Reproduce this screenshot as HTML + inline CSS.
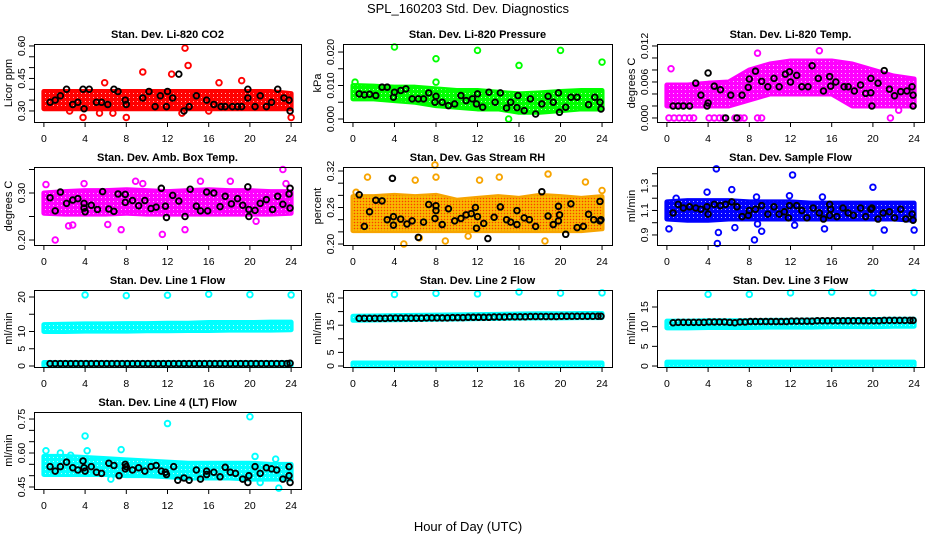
<!DOCTYPE html>
<html><head><meta charset="utf-8">
<style>
html,body{margin:0;padding:0;background:#fff;}
svg{display:block;font-family:"Liberation Sans",Arial,sans-serif;}
</style></head>
<body>
<svg id="chart" width="936" height="540" viewBox="0 0 936 540">
<defs>
<pattern id="speck" width="4" height="4" patternUnits="userSpaceOnUse"><rect x="1" y="1" width="1" height="1" fill="#ffffff" opacity="0.7"/></pattern>
<pattern id="speckrh" width="3" height="3" patternUnits="userSpaceOnUse"><rect x="0" y="0" width="1" height="1" fill="#ff2000" opacity="0.8"/><rect x="1.5" y="1.5" width="1" height="1" fill="#ffff00" opacity="0.9"/></pattern>
</defs>
<text x="468" y="13" text-anchor="middle" font-size="13">SPL_160203  Std. Dev. Diagnostics</text>
<text x="468" y="531" text-anchor="middle" font-size="13">Hour of Day (UTC)</text>
</svg>
<script>
// shared
const xTicks = [0,4,8,12,16,20,24];
const bandHours = [0,2,4,6,8,10,12,14,16,18,20,22,24];
const lineHours = [0.6,1.1,1.6,2.1,2.6,3.1,3.6,4.1,4.6,5.1,5.6,6.1,6.6,7.1,7.6,8.1,8.6,9.1,9.6,10.1,10.6,11.1,11.6,12.1,12.6,13.1,13.6,14.1,14.6,15.1,15.6,16.1,16.6,17.1,17.6,18.1,18.6,19.1,19.6,20.1,20.6,21.1,21.6,22.1,22.6,23.1,23.6,23.9];

// panel 1 CO2
const co2Low = [0.31,0.31,0.31,0.31,0.31,0.31,0.31,0.31,0.31,0.31,0.31,0.31,0.31];
const co2High = [0.39,0.39,0.39,0.39,0.39,0.39,0.39,0.39,0.39,0.39,0.39,0.39,0.38];
const co2Out = [[3.8,0.27],[5.4,0.29],[5.9,0.43],[6.7,0.29],[8,0.27],[9.6,0.48],[12.4,0.47],[13.7,0.59],[14,0.51],[13.4,0.29],[16,0.30],[17,0.43],[19.2,0.44],[24,0.27],[2.5,0.30]];
const co2Black = [[0.6,0.34],[1.1,0.35],[1.6,0.37],[2.2,0.40],[2.8,0.33],[3.3,0.34],[3.8,0.40],[3.9,0.31],[4.4,0.40],[5.1,0.34],[5.6,0.34],[6.2,0.33],[6.8,0.40],[7.2,0.39],[7.9,0.35],[8,0.33],[9.6,0.36],[10.2,0.39],[10.8,0.32],[11.3,0.37],[11.9,0.32],[12,0.39],[12.5,0.36],[13.1,0.47],[13.6,0.30],[14.1,0.32],[14.8,0.37],[15.8,0.35],[16.5,0.33],[17.2,0.32],[17.6,0.32],[18.3,0.32],[18.8,0.32],[19.2,0.32],[19.8,0.40],[19.8,0.36],[20.5,0.32],[21,0.37],[21.6,0.32],[22.1,0.34],[22.7,0.40],[23.3,0.36],[23.8,0.35],[23.9,0.30]];
const co2Ticks = [0.30,0.35,0.40,0.45,0.50,0.55,0.60];
const co2Labels = ["0.30","0.45","0.60"];

// panel 2 pressure
const presLow = [0.006,0.006,0.0055,0.005,0.004,0.0035,0.003,0.003,0.002,0.002,0.0025,0.003,0.003];
const presHigh = [0.0100,0.0098,0.0095,0.0095,0.0090,0.0085,0.0085,0.0080,0.0075,0.0078,0.0082,0.0085,0.0085];
const presOut = [[4,0.0215],[8,0.018],[8,0.011],[12,0.0205],[16,0.016],[15,0],[20,0.0205],[24,0.017],[0.2,0.011]];
const presBlack = [[0.6,0.0075],[1.1,0.0072],[1.6,0.0074],[2.2,0.007],[2.8,0.0095],[3.3,0.0095],[3.9,0.0065],[4,0.008],[4.6,0.0085],[5.1,0.009],[5.7,0.006],[6.3,0.006],[6.8,0.006],[7.3,0.0078],[7.9,0.005],[8,0.0068],[8.6,0.005],[9.2,0.004],[9.8,0.0045],[10.4,0.007],[10.9,0.0055],[11.5,0.006],[11.9,0.0045],[12,0.0075],[12.5,0.0035],[13.1,0.008],[13.7,0.005],[14.2,0.0078],[14.8,0.0033],[15.2,0.005],[15.8,0.0034],[15.9,0.007],[16.5,0.0025],[17.1,0.006],[17.6,0.0015],[18.2,0.0045],[18.8,0.0068],[19.3,0.005],[19.8,0.0078],[19.9,0.002],[20.5,0.0035],[21,0.0065],[21.6,0.0065],[22.7,0.0043],[23.3,0.0065],[23.8,0.005],[23.9,0.003]];
const presTicks = [0,0.005,0.010,0.015,0.020];
const presLabels = ["0.000","0.010","0.020"];

// panel 3 Li-820 temp
const tempLow = [0.002,0.002,0.002,0.002,0.003,0.004,0.004,0.004,0.004,0.002,0.002,0.002,0.002];
const tempHigh = [0.0055,0.0055,0.0058,0.006,0.008,0.009,0.0095,0.0095,0.0095,0.009,0.008,0.007,0.0065];
const tempOut = [[0.4,0.0082],[8.8,0.0108],[14.8,0.0112],[22.5,0.0013],[21.7,0],[0.2,0],[0.7,0],[1.2,0],[1.7,0],[2.2,0],[2.6,0],[4.1,0],[4.6,0],[5.1,0],[5.5,0],[6.6,0],[7.1,0],[7.5,0],[8.8,0],[9.2,0]];
const tempBlack = [[0.6,0.002],[1.1,0.002],[1.6,0.002],[2.2,0.002],[2.8,0.0058],[3.3,0.0038],[3.9,0.002],[4,0.0025],[4,0.0075],[4.6,0.0053],[5.2,0.0047],[5.7,0],[6.2,0.0038],[6.8,0],[7.3,0.0038],[7.9,0.0051],[8,0.0065],[8.6,0.0078],[9.2,0.0061],[9.8,0.0052],[10.4,0.0066],[10.9,0.0052],[11.5,0.0073],[11.9,0.0077],[12,0.006],[12.6,0.0071],[13.1,0.0052],[13.7,0.0052],[14.1,0.0087],[14.7,0.0066],[15.2,0.0045],[15.8,0.0069],[15.9,0.0053],[16.4,0.006],[17.2,0.0052],[17.6,0.0052],[18.2,0.0045],[18.8,0.0055],[19.3,0.0041],[19.8,0.0066],[19.8,0.0042],[19.9,0.002],[20.5,0.0058],[21.1,0.0079],[21.6,0.0048],[22.1,0.0037],[22.7,0.0044],[23.3,0.0045],[23.8,0.0052],[23.9,0.0038],[23.9,0.002]];
const tempTicks = [0,0.002,0.004,0.006,0.008,0.010,0.012];
const tempLabels = ["0.000","0.006","0.012"];

// panel 4 ambient box temp
const ambLow = [0.257,0.255,0.255,0.255,0.257,0.255,0.255,0.255,0.255,0.255,0.255,0.255,0.257];
const ambHigh = [0.300,0.303,0.305,0.305,0.307,0.305,0.303,0.305,0.307,0.305,0.305,0.303,0.303];
const ambOut = [[0.2,0.318],[1.1,0.2],[2.4,0.23],[3.9,0.32],[7.5,0.222],[8.9,0.325],[11.5,0.212],[13.7,0.222],[15.2,0.325],[18.1,0.325],[20.6,0.24],[23.2,0.35],[23.5,0.32],[2.8,0.232],[6.2,0.233],[9.6,0.32]];
const ambBlack = [[0.6,0.29],[1.1,0.262],[1.6,0.302],[2.2,0.278],[2.8,0.285],[3.3,0.288],[3.9,0.268],[3.9,0.278],[4.0,0.26],[4.6,0.274],[5.2,0.265],[5.7,0.303],[6.3,0.266],[6.8,0.261],[7.2,0.298],[7.9,0.28],[7.9,0.297],[8.6,0.284],[9.2,0.273],[9.8,0.284],[10.4,0.267],[10.9,0.27],[11.4,0.31],[11.8,0.272],[11.9,0.248],[12.5,0.295],[13.1,0.283],[13.7,0.25],[14.2,0.308],[14.8,0.272],[15.2,0.262],[15.8,0.302],[15.9,0.262],[16.5,0.3],[17.1,0.271],[17.6,0.293],[18.2,0.277],[18.8,0.288],[19.3,0.274],[19.8,0.313],[19.9,0.265],[19.9,0.25],[20.5,0.263],[21,0.278],[21.6,0.286],[22.2,0.265],[22.7,0.293],[23.2,0.276],[23.8,0.298],[23.9,0.268],[23.9,0.31]];
const ambTicks = [0.20,0.25,0.30,0.35];
const ambLabels = ["0.20","0.30"];

// panel 5 RH
const rhLow = [0.222,0.222,0.222,0.222,0.222,0.222,0.222,0.222,0.222,0.222,0.222,0.222,0.225];
const rhHigh = [0.278,0.278,0.28,0.278,0.28,0.272,0.275,0.278,0.275,0.28,0.278,0.275,0.278];
const rhOut = [[0.3,0.285],[1.4,0.31],[4.9,0.2],[6,0.305],[7.9,0.33],[8,0.31],[12.2,0.305],[14.1,0.31],[18.5,0.205],[18.8,0.315],[22.4,0.302],[24,0.288],[11.1,0.213],[6.4,0.21],[8.9,0.205]];
const rhBlack = [[0.6,0.281],[1.1,0.229],[1.6,0.253],[2.2,0.272],[2.8,0.271],[3.3,0.24],[3.8,0.308],[3.9,0.245],[3.9,0.231],[4.6,0.241],[5.2,0.233],[5.7,0.238],[6.3,0.211],[6.8,0.236],[7.3,0.265],[7.9,0.242],[8.0,0.255],[8,0.263],[8.6,0.232],[9.2,0.258],[9.8,0.238],[10.4,0.242],[10.9,0.248],[11.4,0.25],[11.8,0.26],[11.9,0.226],[12,0.245],[12.6,0.234],[13.0,0.209],[13.6,0.244],[14.2,0.261],[14.8,0.24],[15.2,0.236],[15.8,0.232],[15.8,0.255],[16.5,0.243],[17,0.24],[17.6,0.229],[18.2,0.286],[18.8,0.246],[19.3,0.232],[19.8,0.238],[19.8,0.262],[19.9,0.248],[20.5,0.216],[21,0.266],[21.6,0.227],[22.2,0.229],[22.7,0.249],[23.2,0.24],[23.8,0.27],[23.8,0.238],[23.9,0.24]];
const rhTicks = [0.20,0.22,0.24,0.26,0.28,0.30,0.32];
const rhLabels = ["0.20","0.26","0.32"];

// panel 6 sample flow
const flowLow = [1.03,1.02,1.02,1.03,1.03,1.03,1.03,1.03,1.03,1.03,1.03,1.03,1.02];
const flowHigh = [1.17,1.18,1.18,1.18,1.17,1.17,1.17,1.16,1.16,1.16,1.16,1.16,1.16];
const flowOut = [[0.2,0.95],[0.9,1.2],[3.9,1.25],[4.8,1.44],[4.9,0.83],[5,0.92],[6.3,1.27],[6.6,0.96],[8.5,0.86],[8.7,1.21],[9.2,0.93],[12.2,1.39],[11.9,1.22],[15.1,1.21],[15.3,0.95],[20,1.29],[21.1,0.94],[24,0.94],[12.4,0.98],[8.8,0.99]];
const flowBlack = [[0.6,1.08],[1.1,1.15],[1.6,1.12],[2.2,1.13],[2.8,1.12],[3.3,1.11],[3.9,1.13],[4,1.07],[4.6,1.15],[5.2,1.14],[5.7,1.15],[6.3,1.17],[6.8,1.13],[7.3,1.05],[7.9,1.06],[8,1.1],[8.6,1.11],[9.2,1.14],[9.8,1.07],[10.4,1.13],[10.9,1.07],[11.4,1.09],[11.8,1.04],[11.9,1.14],[12.6,1.14],[13.1,1.1],[13.6,1.04],[14.2,1.12],[14.8,1.08],[15.2,1.03],[15.8,1.06],[15.8,1.15],[15.9,1.11],[16.5,1.05],[17.1,1.12],[17.6,1.08],[18.1,1.06],[18.8,1.12],[19.3,1.05],[19.8,1.11],[19.9,1.12],[20.5,1.03],[21.0,1.08],[21.6,1.09],[22.1,1.04],[22.7,1.11],[23.2,1.03],[23.8,1.07],[23.9,1.02]];
const flowTicks = [0.9,1.0,1.1,1.2,1.3,1.4];
const flowLabels = ["0.9","1.1","1.3"];

// panel 7 line 1
const l1Low = [10.0,10.0,10.1,10.1,10.1,10.2,10.2,10.3,10.3,10.4,10.4,10.4,10.5];
const l1High = [12.0,12.1,12.2,12.2,12.3,12.3,12.4,12.4,12.6,12.6,12.6,12.7,12.7];
const l1ZeroLow = [0.1,0.1,0.1,0.1,0.1,0.1,0.1,0.1,0.1,0.1,0.1,0.1,0.1];
const l1ZeroHigh = [1.0,1.0,1.0,1.0,1.0,1.0,1.0,1.0,1.0,1.0,1.0,1.0,1.0];
const l1Out = [[4,20.6],[8,20.4],[12,20.5],[16,20.8],[20,20.7],[24,20.6]];
const l1Black = [0.7,0.7,0.7,0.7,0.7,0.7,0.7,0.7,0.7,0.7,0.7,0.7,0.7,0.7,0.7,0.7,0.7,0.7,0.7,0.7,0.7,0.7,0.7,0.7,0.7,0.7,0.7,0.7,0.7,0.7,0.7,0.7,0.7,0.7,0.7,0.7,0.7,0.7,0.7,0.7,0.7,0.7,0.7,0.7,0.7,0.7,0.7,0.8];
const l1Ticks = [0,5,10,15,20];
const l1Labels = ["0","5","10","20"];

// panel 8 line 2
const l2Low = [16.8,16.9,17.0,17.1,17.2,17.3,17.4,17.5,17.6,17.7,17.7,17.8,17.8];
const l2High = [18.3,18.4,18.5,18.6,18.7,18.8,18.9,19.0,19.1,19.2,19.2,19.3,19.3];
const l2ZeroLow = [0.1,0.1,0.1,0.1,0.1,0.1,0.1,0.1,0.1,0.1,0.1,0.1,0.1];
const l2ZeroHigh = [1.1,1.1,1.1,1.1,1.1,1.1,1.1,1.1,1.1,1.1,1.1,1.1,1.1];
const l2Out = [[4,26.3],[8,26.7],[12,26.5],[16,27.2],[20,26.8],[24,26.9]];
const l2Black = [17.5,17.5,17.5,17.5,17.5,17.5,17.6,17.6,17.6,17.6,17.6,17.6,17.6,17.7,17.7,17.7,17.7,17.7,17.8,17.8,17.8,17.9,17.9,17.9,17.9,17.9,18.0,18.0,18.0,18.1,18.1,18.1,18.1,18.2,18.2,18.2,18.2,18.2,18.2,18.3,18.3,18.3,18.3,18.3,18.3,18.3,18.3,18.3];
const l2Ticks = [0,5,10,15,20,25];
const l2Labels = ["0","5","15","25"];

// panel 9 line 3
const l3Low = [9.7,9.7,9.8,9.8,9.8,9.9,9.9,9.9,10.0,10.0,10.0,10.1,10.1];
const l3High = [11.4,11.4,11.5,11.5,11.5,11.6,11.6,11.7,11.7,11.8,11.8,11.9,11.9];
const l3ZeroLow = [0.1,0.1,0.1,0.1,0.1,0.1,0.1,0.1,0.1,0.1,0.1,0.1,0.1];
const l3ZeroHigh = [1.0,1.0,1.0,1.0,1.0,1.0,1.0,1.0,1.0,1.0,1.0,1.0,1.0];
const l3Out = [[4,18.2],[8,18.2],[12,18.6],[16,18.8],[20,18.6],[24,18.7]];
const l3Black = [11.0,11.1,11.1,11.1,11.1,11.1,11.1,11.2,11.2,11.2,11.2,11.1,11.0,11.2,11.2,11.3,11.3,11.3,11.3,11.3,11.3,11.3,11.3,11.4,11.4,11.4,11.4,11.4,11.5,11.5,11.5,11.5,11.5,11.5,11.5,11.5,11.5,11.5,11.5,11.5,11.5,11.6,11.6,11.6,11.6,11.6,11.6,11.6];
const l3Ticks = [0,5,10,15];
const l3Labels = ["0","5","10","15"];

// panel 10 line 4
const l4Low = [0.505,0.505,0.505,0.505,0.5,0.5,0.495,0.49,0.49,0.49,0.485,0.485,0.485];
const l4High = [0.585,0.585,0.58,0.575,0.57,0.565,0.56,0.555,0.555,0.555,0.555,0.55,0.55];
const l4Out = [[0.2,0.61],[1.6,0.6],[4,0.675],[4.2,0.61],[7.5,0.615],[12,0.73],[20,0.76],[20.5,0.585],[22.5,0.573],[22.8,0.445],[6.5,0.485],[21,0.47],[2.6,0.59]];
const l4BlackPts = [[0.6,0.54],[1.1,0.52],[1.6,0.54],[2.2,0.56],[2.8,0.535],[3.3,0.525],[3.8,0.565],[3.9,0.535],[4,0.52],[4.6,0.54],[5.1,0.515],[5.6,0.51],[6.3,0.555],[6.8,0.545],[7.3,0.5],[7.9,0.55],[7.9,0.53],[8,0.54],[8.6,0.525],[9.2,0.535],[9.8,0.52],[10.4,0.54],[10.9,0.545],[11.4,0.52],[11.8,0.515],[11.9,0.505],[12.6,0.54],[13,0.48],[13.6,0.49],[14.1,0.48],[14.8,0.525],[15.2,0.485],[15.8,0.505],[15.8,0.52],[16.5,0.515],[17.1,0.495],[17.6,0.537],[18.1,0.515],[18.6,0.51],[19.3,0.485],[19.8,0.47],[19.9,0.5],[20.5,0.54],[21,0.51],[21.6,0.535],[22.1,0.53],[22.6,0.525],[23.2,0.485],[23.8,0.5],[23.8,0.54],[23.9,0.47]];
const l4Ticks = [0.45,0.50,0.55,0.60,0.65,0.70,0.75];
const l4Labels = ["0.45","0.60","0.75"];

const NS = "http://www.w3.org/2000/svg";
const svg = document.getElementById('chart');
function mk(tag, attrs, parent){ const e=document.createElementNS(NS,tag); for(const k in attrs) e.setAttribute(k,attrs[k]); (parent||svg).appendChild(e); return e; }

const cols = [[34,301],[343,612],[657,924]];
const rows = [[44,122],[167,245],[290,367],[412,489]];

function panel(o){
  const [x0,x1]=cols[o.c], [y0,y1]=rows[o.r];
  const g = mk('g',{});
  
  
  const xs = h => x0 + (h+0.96)/25.92*(x1-x0);
  const ys = v => y1 - (v-o.ymin)/(o.ymax-o.ymin)*(y1-y0);
  const t = mk('text',{x:(x0+x1)/2,y:y0-6,'text-anchor':'middle','font-size':'11','font-weight':'bold'},g);
  t.textContent = o.title;
  
  
  const clip = mk('g',{},g);
  function band(lo,hi,col){
    let pts = bandHours.map((h,i)=>xs(h)+','+ys(hi[i]));
    pts = pts.concat(bandHours.slice().reverse().map((h,j)=>{const i=bandHours.length-1-j; return xs(h)+','+ys(lo[i]);}));
    const p = mk('polygon',{points:pts.join(' '),fill:col,stroke:col,'stroke-width':'5','stroke-linejoin':'round'},clip);
    
    
    const q = mk('polygon',{points:pts.join(' '),fill:o.rh?'url(#speckrh)':'url(#speck)'},clip);
    
    
  }
  band(o.low,o.high,o.col);
  if(o.zlow) band(o.zlow,o.zhigh,o.col);
  o.out.forEach(d=>{
    const c = mk('circle',{cx:xs(d[0]),cy:ys(d[1]),r:2.8,fill:'none',stroke:o.col,'stroke-width':1.9},clip);
    
    
  });
  o.black.forEach(d=>{
    const c = mk('circle',{cx:xs(d[0]),cy:ys(d[1]),r:2.8,fill:'none',stroke:'#000','stroke-width':1.9},clip);
    
    
  });
  const b = mk('rect',{x:x0+0.5,y:y0+0.5,width:x1-x0,height:y1-y0,fill:'none',stroke:'#000','stroke-width':1},g);
  
  
  xTicks.forEach(h=>{
    mk('line',{x1:xs(h),x2:xs(h),y1:y1,y2:y1+5,stroke:'#000'},g);
    const l = mk('text',{x:xs(h),y:y1+20,'text-anchor':'middle','font-size':'10.5'},g);
    l.textContent = h;
    
    
  });
  o.ticks.forEach(v=>{ mk('line',{x1:x0-5,x2:x0,y1:ys(v),y2:ys(v),stroke:'#000'},g); });
  o.labels.forEach(s=>{
    const v=parseFloat(s), yy=ys(v), xx=x0-9;
    const l = mk('text',{x:xx,y:yy,'text-anchor':'middle','font-size':'10.5',transform:`rotate(-90 ${xx} ${yy})`},g);
    l.textContent = s;
    
    
  });
  const yl = mk('text',{x:x0-22,y:(y0+y1)/2,'text-anchor':'middle','font-size':'11',transform:`rotate(-90 ${x0-22} ${(y0+y1)/2})`},g);
  yl.textContent = o.ylab;
  
  
}
const pairs = vals => lineHours.map((h,i)=>[h,vals[i]]);

panel({name:'panel-co2',c:0,r:0,title:'Stan. Dev. Li-820 CO2',ylab:'Licor ppm',ymin:0.249,ymax:0.609,col:'#ff0000',low:co2Low,high:co2High,out:co2Out,black:co2Black,ticks:co2Ticks,labels:co2Labels});
panel({name:'panel-pressure',c:1,r:0,title:'Stan. Dev. Li-820 Pressure',ylab:'kPa',ymin:-0.0009,ymax:0.0224,col:'#00ff00',low:presLow,high:presHigh,out:presOut,black:presBlack,ticks:presTicks,labels:presLabels});
panel({name:'panel-li820-temp',c:2,r:0,title:'Stan. Dev. Li-820 Temp.',ylab:'degrees C',ymin:-0.00067,ymax:0.01233,col:'#ff00ff',low:tempLow,high:tempHigh,out:tempOut,black:tempBlack,ticks:tempTicks,labels:tempLabels});
panel({name:'panel-amb-box-temp',c:0,r:1,title:'Stan. Dev. Amb. Box Temp.',ylab:'degrees C',ymin:0.1894,ymax:0.3553,col:'#ff00ff',low:ambLow,high:ambHigh,out:ambOut,black:ambBlack,ticks:ambTicks,labels:ambLabels});
panel({name:'panel-gas-rh',c:1,r:1,rh:true,title:'Stan. Dev. Gas Stream RH',ylab:'percent',ymin:0.1984,ymax:0.3266,col:'#f7a400',low:rhLow,high:rhHigh,out:rhOut,black:rhBlack,ticks:rhTicks,labels:rhLabels});
panel({name:'panel-sample-flow',c:2,r:1,title:'Stan. Dev. Sample Flow',ylab:'ml/min',ymin:0.818,ymax:1.455,col:'#0000ff',low:flowLow,high:flowHigh,out:flowOut,black:flowBlack,ticks:flowTicks,labels:flowLabels});
panel({name:'panel-line1-flow',c:0,r:2,title:'Stan. Dev. Line 1 Flow',ylab:'ml/min',ymin:-0.29,ymax:22.03,col:'#00ffff',low:l1Low,high:l1High,zlow:l1ZeroLow,zhigh:l1ZeroHigh,out:l1Out,black:pairs(l1Black),ticks:l1Ticks,labels:l1Labels});
panel({name:'panel-line2-flow',c:1,r:2,title:'Stan. Dev. Line 2 Flow',ylab:'ml/min',ymin:-0.37,ymax:27.94,col:'#00ffff',low:l2Low,high:l2High,zlow:l2ZeroLow,zhigh:l2ZeroHigh,out:l2Out,black:pairs(l2Black),ticks:l2Ticks,labels:l2Labels});
panel({name:'panel-line3-flow',c:2,r:2,title:'Stan. Dev. Line 3 Flow',ylab:'ml/min',ymin:-0.25,ymax:19.32,col:'#00ffff',low:l3Low,high:l3High,zlow:l3ZeroLow,zhigh:l3ZeroHigh,out:l3Out,black:pairs(l3Black),ticks:l3Ticks,labels:l3Labels});
panel({name:'panel-line4-flow',c:0,r:3,title:'Stan. Dev. Line 4 (LT) Flow',ylab:'ml/min',ymin:0.4412,ymax:0.781,col:'#00ffff',low:l4Low,high:l4High,out:l4Out,black:l4BlackPts,ticks:l4Ticks,labels:l4Labels});
</script>
</body></html>
